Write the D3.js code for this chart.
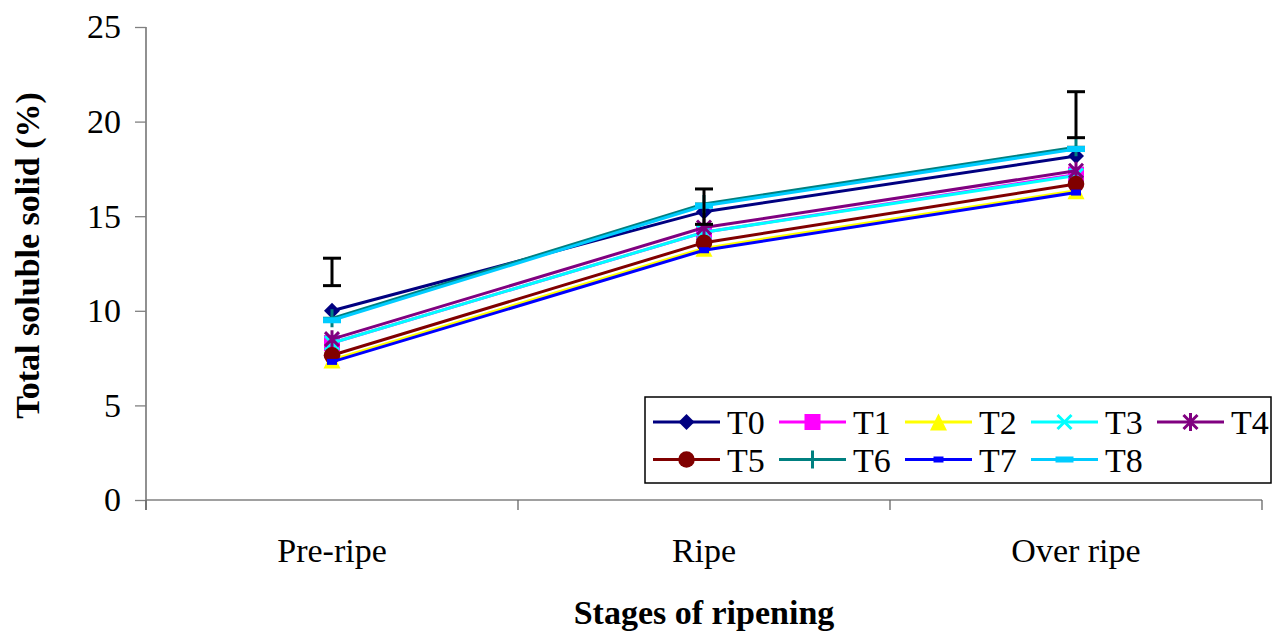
<!DOCTYPE html>
<html>
<head>
<meta charset="utf-8">
<script src="https://cdn.jsdelivr.net/npm/d3@7"></script>
<style>
  html, body { margin: 0; padding: 0; background: #fff; }
  svg { display: block; }
  svg text { font-family: "Liberation Serif", "Times New Roman", Times, Tinos, "Nimbus Roman", "DejaVu Serif", serif !important; fill: #000; }
</style>
</head>
<body>
<svg id="chart" width="1281" height="631"></svg>
<script>
// ---- data ----
const categories = ["Pre-ripe", "Ripe", "Over ripe"];
const seriesNames = ["T0", "T1", "T2", "T3", "T4", "T5", "T6", "T7", "T8"];
const T0 = [10.0, 15.24, 18.18];
const T1 = [8.3, 14.15, 17.2];
const T2 = [7.4, 13.3, 16.35];
const T3 = [8.3, 14.15, 17.15];
const T4 = [8.5, 14.4, 17.4];
const T5 = [7.65, 13.6, 16.7];
const T6 = [9.6, 15.65, 18.65];
const T7 = [7.3, 13.2, 16.25];
const T8 = [9.5, 15.55, 18.55];
const errLow = [11.33, 14.57, 19.15];
const errHigh = [12.78, 16.44, 21.58];
const yTicks = [0, 5, 10, 15, 20, 25];
const yTitle = "Total soluble solid (%)";
const xTitle = "Stages of ripening";

const seriesValues = [T0, T1, T2, T3, T4, T5, T6, T7, T8];
const seriesColors = ["#000080", "#FF00FF", "#FFFF00", "#00FFFF", "#800080", "#800000", "#008080", "#0000FF", "#00CCFF"];
const seriesMarkers = ["diamond", "square", "triangle", "x", "star", "circle", "plus", "dashSmall", "dashLarge"];

// ---- layout ----
const svg = d3.select("#chart");
const plotLeft = 146, plotRight = 1262, plotTop = 27, plotBottom = 500;

const x = d3.scaleBand().domain(categories).range([plotLeft, plotRight]).padding(0);
const y = d3.scaleLinear().domain([0, 25]).range([plotBottom, plotTop]);
const cx = c => x(c) + x.bandwidth() / 2;

// ---- axes ----
const yAxis = d3.axisLeft(y).tickValues(yTicks).tickSize(11).tickPadding(14).tickFormat(d3.format("d"));
const gy = svg.append("g").attr("transform", `translate(${plotLeft},0)`).call(yAxis);
gy.attr("font-family", null).attr("font-size", null);
gy.select(".domain").attr("stroke", "#555").attr("stroke-width", 1.3).attr("d", `M0,${plotTop}V${plotBottom + 10}`);
gy.selectAll(".tick line").attr("stroke", "#808080").attr("stroke-width", 1.3);
gy.selectAll(".tick text").style("font-size", "34px").attr("fill", "#000");

// x axis line + boundary ticks
const boundaries = categories.map(c => x(c)).concat([x.range()[1]]);
const gx = svg.append("g");
gx.append("line").attr("x1", plotLeft).attr("x2", plotRight).attr("y1", plotBottom).attr("y2", plotBottom)
  .attr("stroke", "#808080").attr("stroke-width", 1.5);
gx.selectAll("line.bt").data(boundaries).enter().append("line").attr("class", "bt")
  .attr("x1", d => d).attr("x2", d => d).attr("y1", plotBottom).attr("y2", plotBottom + 10)
  .attr("stroke", "#666").attr("stroke-width", 1.3);
gx.selectAll("text.cat").data(categories).enter().append("text").attr("class", "cat")
  .attr("x", d => cx(d)).attr("y", 562).attr("text-anchor", "middle")
  .style("font-size", "34px").text(d => d);

// titles
svg.append("text").attr("x", cx(categories[1])).attr("y", 624).attr("text-anchor", "middle")
  .style("font-size", "34px").style("font-weight", "bold").text(xTitle);
svg.append("text").attr("transform", `translate(39,${(plotTop + plotBottom) / 2 - 8}) rotate(-90)`)
  .attr("text-anchor", "middle").style("font-size", "34px").style("font-weight", "bold").text(yTitle);

// ---- markers ----
function drawMarker(g, type, color, px, py) {
  const s = 8;
  switch (type) {
    case "diamond":
      g.append("path").attr("d", `M${px},${py - s}L${px + s},${py}L${px},${py + s}L${px - s},${py}Z`).attr("fill", color);
      break;
    case "square":
      g.append("rect").attr("x", px - 8).attr("y", py - 8).attr("width", 16).attr("height", 16).attr("fill", color);
      break;
    case "triangle":
      g.append("path").attr("d", `M${px},${py - 8.5}L${px + 8.5},${py + 8.5}L${px - 8.5},${py + 8.5}Z`).attr("fill", color);
      break;
    case "x":
      g.append("path").attr("d", `M${px - 7},${py - 7}L${px + 7},${py + 7}M${px - 7},${py + 7}L${px + 7},${py - 7}`)
        .attr("stroke", color).attr("stroke-width", 3).attr("fill", "none");
      break;
    case "star":
      g.append("path").attr("d", `M${px - 7},${py - 7}L${px + 7},${py + 7}M${px - 7},${py + 7}L${px + 7},${py - 7}M${px},${py - 9}L${px},${py + 9}`)
        .attr("stroke", color).attr("stroke-width", 3).attr("fill", "none");
      break;
    case "circle":
      g.append("circle").attr("cx", px).attr("cy", py).attr("r", 8.3).attr("fill", color);
      break;
    case "plus":
      g.append("path").attr("d", `M${px - 9},${py}L${px + 9},${py}M${px},${py - 9}L${px},${py + 9}`)
        .attr("stroke", color).attr("stroke-width", 3).attr("fill", "none");
      break;
    case "dashSmall":
      g.append("rect").attr("x", px - 5).attr("y", py - 3).attr("width", 10).attr("height", 6).attr("fill", color);
      break;
    case "dashLarge":
      g.append("rect").attr("x", px - 9).attr("y", py - 3).attr("width", 18).attr("height", 6).attr("fill", color);
      break;
  }
}

// ---- series ----
const line = d3.line().x((d, i) => cx(categories[i])).y(d => y(d));
const gs = svg.append("g");
seriesValues.forEach((vals, k) => {
  const g = gs.append("g");
  g.append("path").attr("d", line(vals)).attr("fill", "none").attr("stroke", seriesColors[k]).attr("stroke-width", 3);
  vals.forEach((v, i) => drawMarker(g, seriesMarkers[k], seriesColors[k], cx(categories[i]), y(v)));
});

// ---- error bars ----
const ge = svg.append("g");
categories.forEach((c, i) => {
  const px = cx(c);
  ge.append("line").attr("x1", px).attr("x2", px).attr("y1", y(errLow[i])).attr("y2", y(errHigh[i])).attr("stroke", "#000").attr("stroke-width", 3);
  ge.append("line").attr("x1", px - 9).attr("x2", px + 9).attr("y1", y(errLow[i])).attr("y2", y(errLow[i])).attr("stroke", "#000").attr("stroke-width", 3);
  ge.append("line").attr("x1", px - 9).attr("x2", px + 9).attr("y1", y(errHigh[i])).attr("y2", y(errHigh[i])).attr("stroke", "#000").attr("stroke-width", 3);
});

// ---- legend ----
const lg = svg.append("g");
lg.append("rect").attr("x", 645).attr("y", 397).attr("width", 626).attr("height", 86)
  .attr("fill", "#fff").attr("stroke", "#000").attr("stroke-width", 1.5);
seriesNames.forEach((name, k) => {
  const col = k % 5, row = Math.floor(k / 5);
  const lx = 653 + col * 126, ly = 422 + row * 37.5;
  lg.append("line").attr("x1", lx).attr("x2", lx + 67).attr("y1", ly).attr("y2", ly)
    .attr("stroke", seriesColors[k]).attr("stroke-width", 3);
  drawMarker(lg, seriesMarkers[k], seriesColors[k], lx + 33.5, ly);
  lg.append("text").attr("x", lx + 74).attr("y", ly + 12).style("font-size", "34px").text(name);
});
</script>
</body>
</html>
